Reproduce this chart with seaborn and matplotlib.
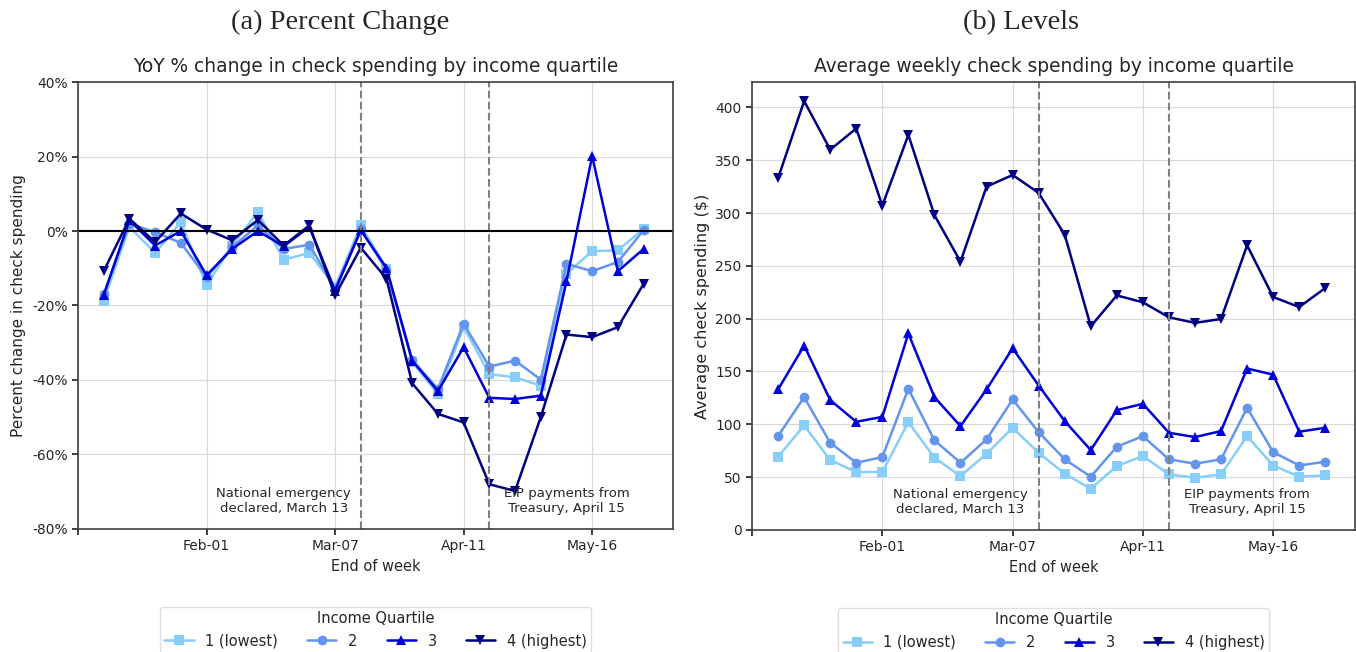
import matplotlib
matplotlib.use("Agg")
import matplotlib.pyplot as plt
import matplotlib.transforms as mtransforms
from matplotlib.ticker import FuncFormatter
import seaborn as sns
import pandas as pd

# ---- data ----
weeks = ["2020-01-04", "2020-01-11", "2020-01-18", "2020-01-25", "2020-02-01",
         "2020-02-08", "2020-02-15", "2020-02-22", "2020-02-29", "2020-03-07",
         "2020-03-14", "2020-03-21", "2020-03-28", "2020-04-04", "2020-04-11",
         "2020-04-18", "2020-04-25", "2020-05-02", "2020-05-09", "2020-05-16",
         "2020-05-23", "2020-05-30"]

quartiles = ["1 (lowest)", "2", "3", "4 (highest)"]

# YoY % change
q1_pct = [-18.8, 1.1, -5.9, 2.4, -14.6, -3.9, 5.1, -7.7, -5.9, -15.0, 1.5,
          -10.1, -35.2, -43.8, -25.8, -38.4, -39.3, -41.5, -11.5, -5.4, -5.2, 0.6]
q2_pct = [-16.9, 2.0, -0.3, -3.2, -12.4, -4.3, 1.5, -4.8, -3.7, -15.5, 0.6,
          -10.6, -34.6, -42.4, -24.9, -36.4, -34.8, -39.9, -8.8, -10.8, -8.3, 0.2]
q3_pct = [-17.3, 2.9, -3.9, 0.0, -11.9, -4.8, 0.0, -4.1, 1.1, -16.0, 0.2,
          -9.9, -34.8, -43.0, -31.2, -44.8, -45.1, -44.2, -13.5, 20.1, -10.8, -4.8]
q4_pct = [-10.8, 3.3, -3.0, 4.7, 0.4, -2.5, 3.0, -3.9, 1.5, -17.3, -4.5,
          -12.8, -40.9, -49.1, -51.4, -68.0, -69.8, -50.0, -27.8, -28.5, -25.8, -14.2]

# average weekly levels ($)
q1_lvl = [69.3, 98.9, 66.2, 54.8, 54.8, 102.0, 68.4, 51.0, 72.1, 96.7, 73.0,
          53.2, 39.0, 60.5, 69.9, 52.6, 49.5, 52.6, 88.8, 61.0, 50.4, 51.7]
q2_lvl = [88.8, 125.7, 82.5, 63.6, 69.0, 133.6, 84.8, 63.6, 85.7, 123.5, 92.6,
          66.8, 50.4, 78.8, 88.8, 66.8, 62.7, 66.8, 115.6, 73.7, 61.0, 64.6]
q3_lvl = [133.0, 174.5, 122.9, 102.4, 107.0, 186.0, 125.7, 98.3, 133.0, 172.0, 136.7,
          103.0, 75.6, 113.4, 119.4, 92.0, 87.9, 93.6, 152.8, 147.0, 93.0, 96.7]
q4_lvl = [333.0, 406.0, 360.0, 380.0, 307.0, 374.0, 298.0, 254.0, 325.0, 336.0, 319.0,
          279.5, 192.8, 222.0, 215.5, 201.3, 196.0, 199.7, 269.4, 220.5, 211.0, 229.0]

tick_dates = ["2019-12-28", "2020-02-01", "2020-03-07", "2020-04-11", "2020-05-16"]
tick_labels = ["", "Feb-01", "Mar-07", "Apr-11", "May-16"]
emergency_date = "2020-03-14"
eip_date = "2020-04-18"

colors = ["#87cefa", "#6495ed", "#0000d8", "#000080"]
markers = ["s", "o", "^", "v"]


def long_df(series):
    rows = []
    for name, vals in zip(quartiles, series):
        for w, v in zip(weeks, vals):
            rows.append({"week": pd.Timestamp(w), "value": v, "quartile": name})
    return pd.DataFrame(rows)


df_pct = long_df([q1_pct, q2_pct, q3_pct, q4_pct])
df_lvl = long_df([q1_lvl, q2_lvl, q3_lvl, q4_lvl])

sns.set_theme(style="whitegrid", rc={
    "axes.edgecolor": "0.25",
    "axes.linewidth": 1.2,
    "grid.color": "0.85",
    "grid.linewidth": 0.8,
    "xtick.bottom": True,
    "ytick.left": True,
    "xtick.color": "0.15",
    "ytick.color": "0.15",
    "xtick.major.size": 4,
    "ytick.major.size": 4,
})
plt.rcParams["font.family"] = ["DejaVu Sans"]

fig = plt.figure(figsize=(13.56, 6.52), dpi=100)
ax1 = fig.add_axes([0.0575, 0.1887, 0.4388, 0.6855])
ax2 = fig.add_axes([0.5546, 0.1872, 0.4447, 0.6870])


def draw(ax, df):
    sns.lineplot(data=df, x="week", y="value", hue="quartile", style="quartile",
                 hue_order=quartiles, style_order=quartiles, palette=colors,
                 markers=markers, dashes=False, markersize=7, linewidth=1.8,
                 markeredgewidth=0, legend=False, ax=ax)
    handles = ax.get_lines()[:4]
    for h, lab in zip(handles, quartiles):
        h.set_label(lab)
    ax.axvline(pd.Timestamp(emergency_date), color="grey", linestyle="--", linewidth=1.5)
    ax.axvline(pd.Timestamp(eip_date), color="grey", linestyle="--", linewidth=1.5)
    trans = mtransforms.blended_transform_factory(ax.transData, ax.transAxes)
    ax.text(pd.Timestamp("2020-02-22"), 0.032, "National emergency\ndeclared, March 13",
            transform=trans, ha="center", va="bottom", fontsize=9.5, color="0.15")
    ax.text(pd.Timestamp("2020-05-09"), 0.032, "EIP payments from\nTreasury, April 15",
            transform=trans, ha="center", va="bottom", fontsize=9.5, color="0.15")
    ax.set_xticks([pd.Timestamp(d) for d in tick_dates])
    ax.set_xticklabels(tick_labels, fontsize=10)
    ax.set_xlim(pd.Timestamp("2019-12-28"), pd.Timestamp("2020-06-07"))
    ax.set_xlabel("End of week", fontsize=10.5)
    ax.tick_params(axis="y", labelsize=10)
    leg = ax.legend(handles=handles, title="Income Quartile", ncol=4,
                    loc="upper center", bbox_to_anchor=(0.5, -0.158),
                    fontsize=10.5, title_fontsize=10.5, frameon=True,
                    handlelength=2.0, columnspacing=2.0, handletextpad=0.8,
                    borderpad=0.3)
    leg.get_frame().set_edgecolor("0.85")
    for spine in ax.spines.values():
        spine.set_visible(True)


draw(ax1, df_pct)
ax1.axhline(0, color="black", linewidth=1.5)
ax1.set_ylim(-80, 40)
ax1.set_yticks([-80, -60, -40, -20, 0, 20, 40])
ax1.yaxis.set_major_formatter(FuncFormatter(lambda v, p: f"{v:.0f}%"))
ax1.set_ylabel("Percent change in check spending", fontsize=11)
ax1.set_title("YoY % change in check spending by income quartile", fontsize=13.4, pad=7)

draw(ax2, df_lvl)
ax2.set_ylim(0, 424)
ax2.set_yticks([0, 50, 100, 150, 200, 250, 300, 350, 400])
ax2.set_ylabel("Average check spending ($)", fontsize=11.5)
ax2.set_title("Average weekly check spending by income quartile", fontsize=13.4, pad=7)

fig.text(0.251, 0.966, "(a) Percent Change", ha="center", va="center",
         fontsize=20.5, family=["Liberation Serif", "DejaVu Serif"])
fig.text(0.753, 0.966, "(b) Levels", ha="center", va="center",
         fontsize=20.5, family=["Liberation Serif", "DejaVu Serif"])

fig.savefig("out.png", dpi=100)
